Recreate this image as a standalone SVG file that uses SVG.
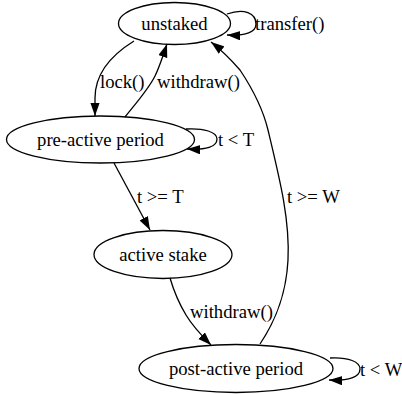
<svg xmlns="http://www.w3.org/2000/svg" width="402" height="394" viewBox="0 0 402 394" font-family="'Liberation Serif', 'DejaVu Serif', serif" font-size="18.67">
<defs>
<marker id="ah" markerUnits="userSpaceOnUse" markerWidth="14" markerHeight="10" refX="13.3" refY="4.67" orient="auto">
<path d="M0,0 L13.3,4.67 L0,9.33 z" fill="#000"/>
</marker>
<style>
.node ellipse{fill:none;stroke:#000;stroke-width:1.3}
text{font-family:'Liberation Serif','DejaVu Serif',serif;font-size:18.67px;fill:#000}
.node text{text-anchor:middle}
.edges path{fill:none;stroke:#000;stroke-width:1.3;marker-end:url(#ah)}
</style>
</defs>
<rect width="402" height="394" fill="#fff"/>
<g id="unstaked" class="node">
<ellipse cx="174.5" cy="23.5" rx="56" ry="21"/>
<text x="174.5" y="29.5">unstaked</text>
</g>
<g id="pre-active" class="node">
<ellipse cx="100.5" cy="139.5" rx="94" ry="23.5"/>
<text x="100.5" y="145.5">pre-active period</text>
</g>
<g id="active" class="node">
<ellipse cx="163" cy="254.5" rx="69" ry="24"/>
<text x="163" y="260.5">active stake</text>
</g>
<g id="post-active" class="node">
<ellipse cx="236" cy="368.5" rx="97" ry="24"/>
<text x="236" y="374.5">post-active period</text>
</g>
<g id="edges" class="edges">
<path d="M227,14 C244,8 256,13 256,24 C256,32 246,36 227,35"/>
<text x="255" y="30">transfer()</text>
<path d="M134,41 C113,54 95,72 95,98 L95,116"/>
<text x="100" y="87.5">lock()</text>
<path d="M125,117 C136,103 148,90 155,76 C158,70 163,56 167,44"/>
<text x="157" y="87.5">withdraw()</text>
<path d="M186,129 C204,128 217,132 217,139 C217,147 206,150 187,149"/>
<text x="218" y="145.5">t &lt; T</text>
<path d="M114,163 L150,230"/>
<text x="137" y="203">t &gt;= T</text>
<path d="M170,278 C175,295 180,305 186,315 C192,325 200,334 211,345"/>
<text x="190" y="317.5">withdraw()</text>
<path d="M260,344 C272,326 286,300 288,260 C290,220 280,180 268,130 C262,105 250,85 240,70 C233,62 224,52 211,42"/>
<text x="287" y="203">t &gt;= W</text>
<path d="M330,358 C349,357 360,362 360,369 C360,377 349,381 329,380"/>
<text x="360" y="375.5">t &lt; W</text>
</g>
</svg>
